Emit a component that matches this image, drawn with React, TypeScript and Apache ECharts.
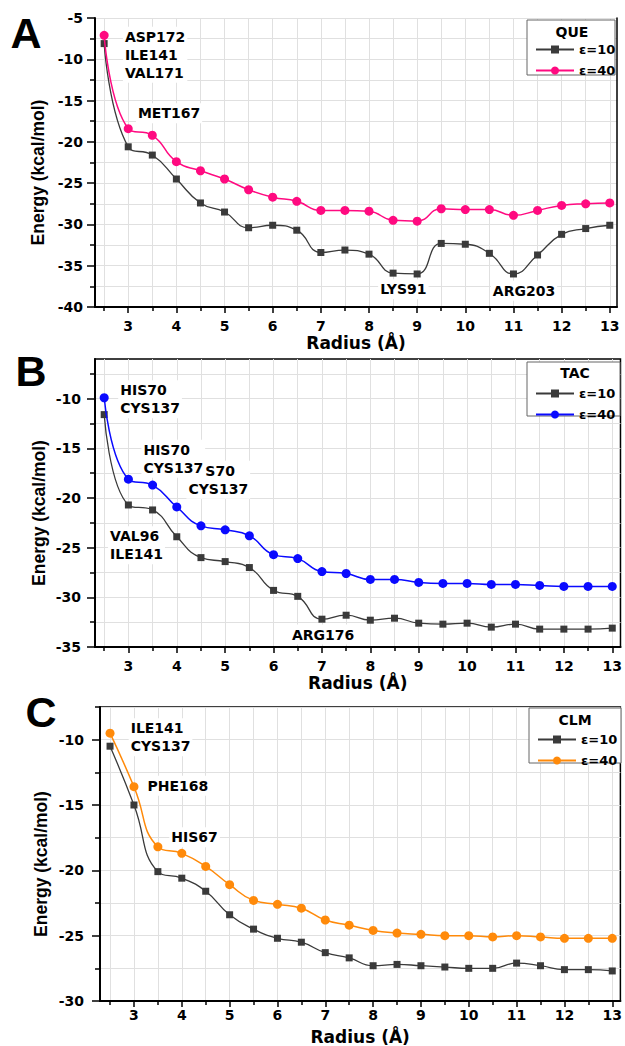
import React, { useEffect, useRef } from 'react';
import * as echarts from 'echarts';

// ---------- data ----------
const radius = [2.5, 3, 3.5, 4, 4.5, 5, 5.5, 6, 6.5, 7, 7.5, 8, 8.5, 9, 9.5, 10, 10.5, 11, 11.5, 12, 12.5, 13];

const queE10 = [-8.1, -20.6, -21.6, -24.5, -27.4, -28.5, -30.4, -30.1, -30.7, -33.4, -33.1, -33.6, -35.9, -36.0, -32.3, -32.4, -33.5, -36.0, -33.7, -31.2, -30.5, -30.1];
const queE40 = [-7.1, -18.4, -19.2, -22.4, -23.5, -24.5, -25.8, -26.7, -27.2, -28.3, -28.3, -28.4, -29.5, -29.6, -28.1, -28.2, -28.2, -28.9, -28.3, -27.7, -27.5, -27.4];
const tacE10 = [-11.6, -20.7, -21.2, -23.9, -26.0, -26.4, -27.0, -29.3, -29.9, -32.2, -31.8, -32.3, -32.1, -32.6, -32.7, -32.6, -33.0, -32.7, -33.2, -33.2, -33.2, -33.1];
const tacE40 = [-9.9, -18.1, -18.7, -20.9, -22.8, -23.2, -23.8, -25.7, -26.1, -27.4, -27.6, -28.2, -28.2, -28.5, -28.6, -28.6, -28.7, -28.7, -28.8, -28.9, -28.9, -28.9];
const clmE10 = [-10.5, -15.0, -20.1, -20.6, -21.6, -23.4, -24.5, -25.2, -25.5, -26.3, -26.7, -27.3, -27.2, -27.3, -27.4, -27.5, -27.5, -27.1, -27.3, -27.6, -27.6, -27.7];
const clmE40 = [-9.5, -13.6, -18.2, -18.7, -19.7, -21.1, -22.3, -22.6, -22.9, -23.8, -24.2, -24.6, -24.8, -24.9, -25.0, -25.0, -25.1, -25.0, -25.1, -25.2, -25.2, -25.2];

const xMajor = [3, 4, 5, 6, 7, 8, 9, 10, 11, 12, 13];
const xMinor = [2.5, 3.5, 4.5, 5.5, 6.5, 7.5, 8.5, 9.5, 10.5, 11.5, 12.5];

const yMajorA = [-40, -35, -30, -25, -20, -15, -10, -5];
const yMinorA = [-37.5, -32.5, -27.5, -22.5, -17.5, -12.5, -7.5];
const yMajorB = [-35, -30, -25, -20, -15, -10];
const yMinorB = [-32.5, -27.5, -22.5, -17.5, -12.5, -7.5];
const yMajorC = [-30, -25, -20, -15, -10];
const yMinorC = [-27.5, -22.5, -17.5, -12.5, -7.5];

const legendNames = ['ε=10', 'ε=40'];
const compounds = ['QUE', 'TAC', 'CLM'];
const panelLetters = ['A', 'B', 'C'];

const notesA = [
  { text: 'ASP172\nILE141\nVAL171', x: 2.9, y: -9.5 },
  { text: 'MET167', x: 3.17, y: -16.6 },
  { text: 'LYS91', x: 8.2, y: -37.9 },
  { text: 'ARG203', x: 10.54, y: -38.1 },
];
const notesB = [
  { text: 'HIS70\nCYS137', x: 2.8, y: -10.1 },
  { text: 'HIS70\nCYS137', x: 4.21, y: -18.2 },
  { text: 'HIS70\nCYS137', x: 3.28, y: -16.1 },
  { text: 'VAL96\nILE141', x: 2.59, y: -24.8 },
  { text: 'ARG176', x: 6.35, y: -33.8 },
];
const notesC = [
  { text: 'ILE141\nCYS137', x: 2.9, y: -9.85 },
  { text: 'PHE168', x: 3.25, y: -13.56 },
  { text: 'HIS67', x: 3.75, y: -17.5 },
];

// ---------- styling / layout ----------
const DV = "'DejaVu Sans', sans-serif";
const LIB = "'Liberation Sans', Arial, sans-serif";
const GRIDLINE = '#e0e0e0';
const DARK = '#3a3a3a';

const panels = [
  {
    e10: queE10, e40: queE40, color: '#ff0a80', notes: notesA,
    yMin: -40, yMax: -5, yMajor: yMajorA, yMinor: yMinorA, xMin: 2.31, xMax: 13.15,
    grid: { left: 95, top: 18, width: 522, height: 289 }, border: false,
    yLabelMargin: 12, xLabelMargin: 12, yNameGap: 48,
    legend: { left: 535, top: 43 }, box: { x: 527, y: 20, w: 88, h: 55 }, titlePos: { x: 572, y: 32 },
    letter: { x: 26, y: 33 },
  },
  {
    e10: tacE10, e40: tacE40, color: '#0a0aff', notes: notesB,
    yMin: -35, yMax: -6, yMajor: yMajorB, yMinor: yMinorB, xMin: 2.31, xMax: 13.17,
    grid: { left: 95, top: 359, width: 526, height: 288 }, border: true,
    yLabelMargin: 14, xLabelMargin: 12, yNameGap: 47,
    legend: { left: 535, top: 387 }, box: { x: 527, y: 362, w: 93, h: 54 }, titlePos: { x: 575, y: 373 },
    letter: { x: 31, y: 371 },
  },
  {
    e10: clmE10, e40: clmE40, color: '#ff8a0a', notes: notesC,
    yMin: -30, yMax: -7.5, yMajor: yMajorC, yMinor: yMinorC, xMin: 2.29, xMax: 13.17,
    grid: { left: 100, top: 707, width: 523, height: 295 }, border: true,
    yLabelMargin: 16, xLabelMargin: 7, yNameGap: 50,
    legend: { left: 537, top: 733 }, box: { x: 529, y: 708, w: 92, h: 55 }, titlePos: { x: 575, y: 720 },
    letter: { x: 41, y: 712 },
  },
];

function buildOption() {
  const grid: any[] = [];
  const xAxis: any[] = [];
  const yAxis: any[] = [];
  const series: any[] = [];
  const legend: any[] = [];
  const graphic: any[] = [];

  panels.forEach((p, i) => {
    grid.push({
      left: p.grid.left, top: p.grid.top, width: p.grid.width, height: p.grid.height,
      show: p.border, borderColor: '#000', borderWidth: 1.5, backgroundColor: 'transparent',
      containLabel: false,
    });

    const xMainIdx = xAxis.length;
    xAxis.push({
      type: 'value', gridIndex: i, position: 'bottom', min: p.xMin, max: p.xMax,
      name: 'Radius (Å)', nameLocation: 'middle', nameGap: 27, nameMoveOverlap: false,
      nameTextStyle: { fontFamily: DV, fontWeight: 'bold', fontSize: 17, color: '#000' },
      axisLine: { show: true, onZero: false, lineStyle: { color: '#000', width: 2 } },
      axisTick: { show: true, customValues: xMajor, length: 6, lineStyle: { color: '#000', width: 1.5 } },
      axisLabel: { show: true, customValues: xMajor, margin: p.xLabelMargin, fontFamily: DV, fontWeight: 'bold', fontSize: 14, color: '#000' },
      splitLine: { show: true, lineStyle: { color: GRIDLINE, width: 1 } },
    });
    xAxis.push({
      type: 'value', gridIndex: i, position: 'bottom', min: p.xMin, max: p.xMax,
      axisLine: { show: false, onZero: false },
      axisTick: { show: true, customValues: xMinor, length: 4, lineStyle: { color: '#000', width: 1.5 } },
      axisLabel: { show: false },
      splitLine: { show: true, lineStyle: { color: GRIDLINE, width: 1 } },
    });

    const yMainIdx = yAxis.length;
    yAxis.push({
      type: 'value', gridIndex: i, position: 'left', min: p.yMin, max: p.yMax,
      name: 'Energy (kcal/mol)', nameLocation: 'middle', nameGap: p.yNameGap, nameRotate: 90, nameMoveOverlap: false,
      nameTextStyle: { fontFamily: LIB, fontWeight: 'bold', fontSize: 17.5, color: '#000', padding: [0, 20, 0, 0] },
      axisLine: { show: true, onZero: false, lineStyle: { color: '#000', width: 2 } },
      axisTick: { show: true, customValues: p.yMajor, length: 8, lineStyle: { color: '#000', width: 1.5 } },
      axisLabel: { show: true, customValues: p.yMajor, margin: p.yLabelMargin, fontFamily: DV, fontWeight: 'bold', fontSize: 14, color: '#000' },
      splitLine: { show: true, lineStyle: { color: GRIDLINE, width: 1 } },
    });
    yAxis.push({
      type: 'value', gridIndex: i, position: 'left', min: p.yMin, max: p.yMax,
      axisLine: { show: false, onZero: false },
      axisTick: { show: true, customValues: p.yMinor, length: 5, lineStyle: { color: '#000', width: 1.5 } },
      axisLabel: { show: false },
      splitLine: { show: true, lineStyle: { color: GRIDLINE, width: 1 } },
    });
    if (!p.border) {
      yAxis.push({
        type: 'value', gridIndex: i, position: 'right', min: p.yMin, max: p.yMax,
        axisLine: { show: true, onZero: false, lineStyle: { color: '#000', width: 1.5 } },
        axisTick: { show: false }, axisLabel: { show: false }, splitLine: { show: false },
      });
    }

    const n10 = compounds[i] + '|' + legendNames[0];
    const n40 = compounds[i] + '|' + legendNames[1];

    series.push({
      type: 'line', name: n10, xAxisIndex: xMainIdx, yAxisIndex: yMainIdx,
      data: radius.map((r, j) => [r, p.e10[j]]),
      smooth: 0.5, symbol: 'rect', symbolSize: 7, showAllSymbol: true,
      itemStyle: { color: DARK }, lineStyle: { color: DARK, width: 1.3 },
      z: 3,
      markPoint: {
        silent: true,
        symbol: 'circle', symbolSize: 1,
        itemStyle: { color: 'rgba(0,0,0,0)' },
        data: p.notes.map((n) => ({
          coord: [n.x, n.y], name: n.text,
          label: {
            show: true, formatter: '{b}', position: [0, 0], align: 'left', verticalAlign: 'middle',
            fontFamily: DV, fontWeight: 'bold', fontSize: 14, lineHeight: 18, color: '#000',
            backgroundColor: '#fff', padding: [1, 2],
          },
        })),
      },
    });
    series.push({
      type: 'line', name: n40, xAxisIndex: xMainIdx, yAxisIndex: yMainIdx,
      data: radius.map((r, j) => [r, p.e40[j]]),
      smooth: 0.5, symbol: 'circle', symbolSize: 9, showAllSymbol: true,
      itemStyle: { color: p.color }, lineStyle: { color: p.color, width: 1.5 },
      z: 4,
    });

    legend.push({
      left: p.legend.left, top: p.legend.top, orient: 'vertical', padding: 0,
      itemWidth: 38, itemHeight: 10, itemGap: 8, selectedMode: false,
      data: [n10, n40],
      formatter: (name: string) => name.split('|')[1],
      textStyle: { fontFamily: DV, fontWeight: 'bold', fontSize: 13, color: '#000', padding: [0, 0, 0, 0] },
      z: 10,
    });

    graphic.push({
      type: 'rect', z: 8,
      shape: { x: p.box.x, y: p.box.y, width: p.box.w, height: p.box.h },
      style: { fill: '#fff', stroke: '#666', lineWidth: 1 },
    });
    graphic.push({
      type: 'text', z: 9, x: p.titlePos.x, y: p.titlePos.y,
      style: { text: compounds[i], fill: '#000', fontFamily: DV, fontWeight: 'bold', fontSize: 14, align: 'center', verticalAlign: 'middle' },
    });
    graphic.push({
      type: 'text', z: 9, x: p.letter.x, y: p.letter.y,
      style: { text: panelLetters[i], fill: '#000', fontFamily: LIB, fontWeight: 'bold', fontSize: 43, align: 'center', verticalAlign: 'middle' },
    });
  });

  return {
    animation: false,
    backgroundColor: '#fff',
    grid, xAxis, yAxis, series, legend, graphic,
  };
}

export default function App() {
  const ref = useRef<HTMLDivElement>(null);
  useEffect(() => {
    if (!ref.current) return;
    const chart = echarts.init(ref.current, null, { renderer: 'svg' });
    chart.setOption(buildOption() as any);
    return () => chart.dispose();
  }, []);
  return (
    <div
      ref={ref}
      style={{ position: 'absolute', left: 0, top: 0, width: 625, height: 1046, background: '#fff' }}
    />
  );
}
